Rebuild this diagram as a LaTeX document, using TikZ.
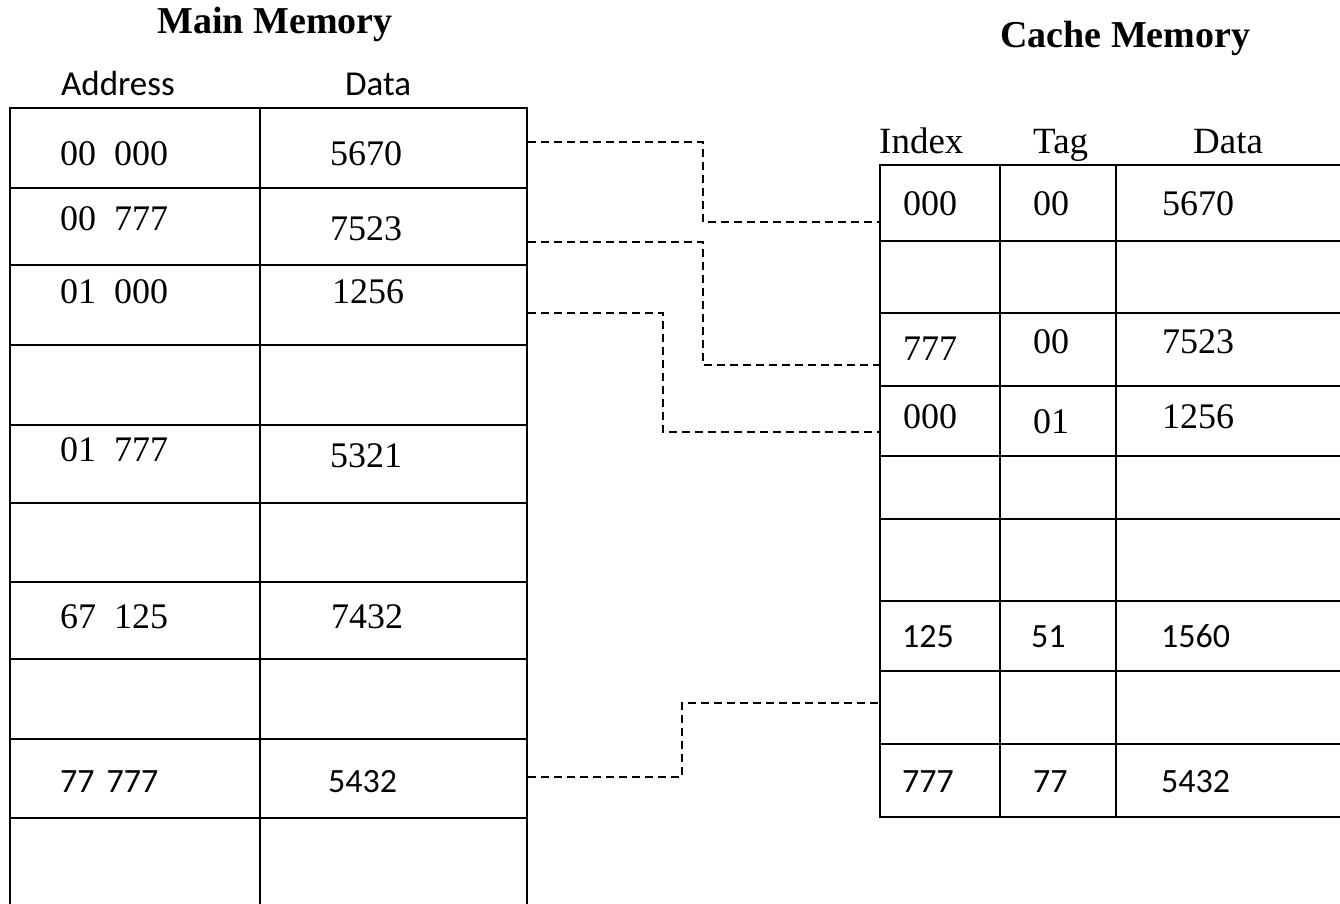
\documentclass[tikz,border=0pt]{standalone}
\usepackage{fontspec}
\setmainfont{Liberation Serif}
\newfontfamily\calibrifont{Carlito}
\tikzset{
  grid/.style={line width=2.2pt, line cap=rect},
  conn/.style={line width=1.8pt, dash pattern=on 8pt off 5pt},
  tr/.style={anchor=base west, inner sep=0pt, font=\fontsize{36}{40}\selectfont},
  cb/.style={anchor=base west, inner sep=0pt, font=\calibrifont\fontsize{34}{38}\selectfont},
  hs/.style={anchor=base west, inner sep=0pt, font=\calibrifont\fontsize{35}{40}\selectfont},
  ttl/.style={anchor=base west, inner sep=0pt, font=\bfseries\fontsize{38}{42}\selectfont},
  th/.style={anchor=base west, inner sep=0pt, font=\fontsize{37}{42}\selectfont},
}
\begin{document}
\begin{tikzpicture}[x=1pt,y=-1pt]
\useasboundingbox[fill=white] (0,0) rectangle (1340,903);
% ---------- titles ----------
\node[ttl] (mtitle) at (157,33) {Main Memory};
\node[ttl] (ctitle) at (1000,47) {Cache Memory};
% ---------- main memory table ----------
\node[hs] (haddr) at (61,95) {Address};
\node[hs] (hdata) at (345,95) {Data};
\foreach \x in {10,260,527} \draw[grid] (\x,108) -- (\x,903);
\foreach \y in {108,188,265,345,425,503,582,659,739,818} \draw[grid] (10,\y) -- (527,\y);
\node[tr] (a1) at (60,165) {00~~000};
\node[tr] (d1) at (330,165) {5670};
\node[tr] (a2) at (60,230) {00~~777};
\node[tr] (d2) at (330,240) {7523};
\node[tr] (a3) at (60,303) {01~~000};
\node[tr] (d3) at (332,303) {1256};
\node[tr] (a5) at (60,461) {01~~777};
\node[tr] (d5) at (330,467) {5321};
\node[tr] (a7) at (60,628) {67~~125};
\node[tr] (d7) at (331,628) {7432};
\node[cb] (a9) at (60,792) {77\hspace{12pt}777};
\node[cb] (d9) at (328,792) {5432};
% ---------- cache memory table ----------
\node[th] (hidx) at (879,153) {Index};
\node[th] (htag) at (1033,153) {Tag};
\node[th] (hcd) at (1193,153) {Data};
\foreach \x in {880,1000,1116} \draw[grid] (\x,165) -- (\x,817);
\foreach \y in {165,241,313,386,456,519,601,671,744,817} \draw[grid] (880,\y) -- (1340,\y);
\node[tr] (i1) at (903,215) {000};
\node[tr] (t1) at (1033,215) {00};
\node[tr] (c1d) at (1162,215) {5670};
\node[tr] (i3) at (903,360) {777};
\node[tr] (t3) at (1033,353) {00};
\node[tr] (c3d) at (1162,353) {7523};
\node[tr] (i4) at (903,428) {000};
\node[tr] (t4) at (1033,433) {01};
\node[tr] (c4d) at (1162,428) {1256};
\node[cb] (i7) at (902,647) {125};
\node[cb] (t7) at (1031,647) {51};
\node[cb] (c7d) at (1161,647) {1560};
\node[cb] (i9) at (902,792) {777};
\node[cb] (t9) at (1033,792) {77};
\node[cb] (c9d) at (1161,792) {5432};
% ---------- connector ends ----------
\coordinate (m1) at (528,142);
\coordinate (m2) at (528,242);
\coordinate (m3) at (528,313);
\coordinate (m4) at (528,777);
\coordinate (k1) at (879,222);
\coordinate (k2) at (879,365);
\coordinate (k3) at (879,432);
\coordinate (k4) at (879,703);
\draw[conn] (m1) -- ++(175,0) |- (k1);
\draw[conn] (m2) -- ++(175,0) |- (k2);
\draw[conn] (m3) -- ++(135,0) |- (k3);
\draw[conn] (m4) -- ++(154,0) |- (k4);
\end{tikzpicture}
\end{document}
